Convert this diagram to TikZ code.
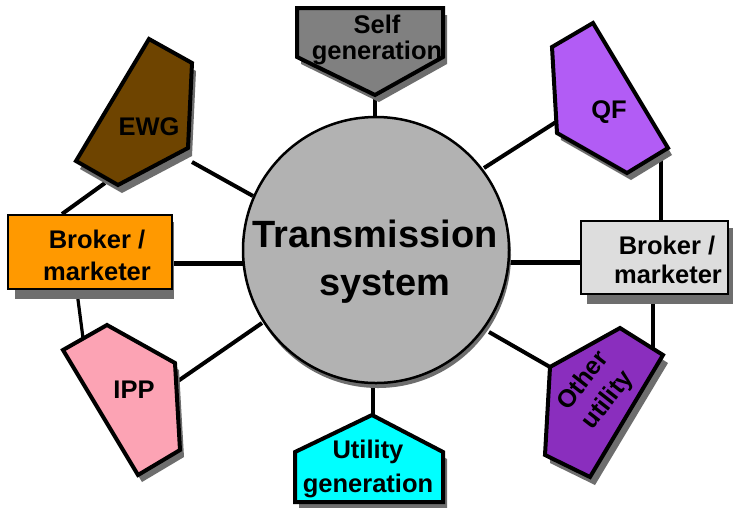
\documentclass[tikz,border=0pt]{standalone}
\usepackage{fontspec}
\setmainfont{Liberation Sans}
\definecolor{cbrown}{RGB}{110,68,0}
\definecolor{cqf}{RGB}{178,92,245}
\definecolor{cother}{RGB}{138,46,190}
\definecolor{cipp}{RGB}{252,163,180}
\definecolor{cself}{RGB}{128,128,128}
\definecolor{ccirc}{RGB}{178,178,178}
\definecolor{cbrk}{RGB}{221,221,221}
\definecolor{corange}{RGB}{255,153,0}
\definecolor{ccyan}{RGB}{0,255,255}
\definecolor{cshadow}{RGB}{110,110,110}
\begin{document}
\begin{tikzpicture}[x=1pt,y=-1pt,
  shp/.style={draw=black,line width=4pt,line join=miter},
  boxshp/.style={draw=black,line width=2.8pt},
  shd/.style={fill=cshadow,draw=none},
  conn/.style={draw=black,line width=4pt},
  thickconn/.style={draw=black,line width=5pt},
  lbl/.style={font=\fontsize{25.5}{30}\selectfont\bfseries,inner sep=0pt,anchor=base},
  big/.style={font=\fontsize{38}{46}\selectfont\bfseries,inner sep=0pt,anchor=base}]
\useasboundingbox (0,0) rectangle (733,507);
\fill[white] (0,0) rectangle (733,507);

% connector end points
\coordinate (selfP) at (375,95);   \coordinate (cTop) at (375,118);
\coordinate (ewgR) at (192,162);   \coordinate (cUL) at (253,196);
\coordinate (ewgB) at (105,183);   \coordinate (lbT) at (62,214);
\coordinate (lbR) at (174,263);    \coordinate (cL) at (244,263);
\coordinate (lbB) at (77,292);     \coordinate (ippT) at (83,338);
\coordinate (ippR) at (178,381);   \coordinate (cLL) at (262,323);
\coordinate (utT) at (373,416);    \coordinate (cBot) at (373,381);
\coordinate (othL) at (550,367);   \coordinate (cLR) at (489,332);
\coordinate (rbB) at (653,298);    \coordinate (othT) at (653,348);
\coordinate (rbL) at (582,262);    \coordinate (cR) at (509,262);
\coordinate (qfB) at (661,158);    \coordinate (rbT) at (661,222);
\coordinate (qfL) at (556,122);    \coordinate (cUR) at (484,168);

% connectors
\draw[conn] (selfP) -- (cTop);
\draw[conn] (ewgR) -- (cUL);
\draw[conn] (ewgB) -- (lbT);
\draw[thickconn] (lbR) -- (cL);
\draw[line width=3.2pt] (lbB) -- (ippT);
\draw[conn] (ippR) -- (cLL);
\draw[conn] (utT) -- (cBot);
\draw[conn] (othL) -- (cLR);
\draw[conn] (rbB) -- (othT);
\draw[thickconn] (rbL) -- (cR);
\draw[conn] (qfB) -- (rbT);
\draw[conn] (qfL) -- (cUR);

% central circle
\fill[cshadow] (378,255) circle (133);
\node[circle,draw=black,line width=2.5pt,fill=ccirc,minimum size=266pt,inner sep=0pt] (ts) at (376,250) {};
\node[big] (tsA) at (375,247) {Transmission};
\node[big] (tsB) at (385,295) {system};

% Self generation
\fill[shd,shift={(4,7)}] (297,8) -- (443,8) -- (443,57) -- (375,95) -- (297,57) -- cycle;
\draw[shp,fill=cself] (297,8) -- (443,8) -- (443,57) -- (375,95) -- (297,57) -- cycle;
\node[lbl] (selfA) at (377,33) {Self};
\node[lbl] (selfB) at (377,59) {generation};

% EWG
\fill[shd,shift={(4,8)}] (149,39) -- (192,63) -- (188,148) -- (118,185) -- (76,161) -- cycle;
\draw[shp,fill=cbrown] (149,39) -- (192,63) -- (188,148) -- (118,185) -- (76,161) -- cycle;
\node[lbl] (ewg) at (149,135) {EWG};

% QF
\fill[shd,shift={(4,7)}] (593,23) -- (668,148) -- (627,173) -- (557,133) -- (552,47) -- cycle;
\draw[shp,fill=cqf] (593,23) -- (668,148) -- (627,173) -- (557,133) -- (552,47) -- cycle;
\node[lbl] (qf) at (609,118) {QF};

% left broker
\fill[shd] (15,222) rectangle (174,299);
\draw[boxshp,fill=corange] (8,215) rectangle (172,289);
\node[lbl] (lbA) at (97,248) {Broker /};
\node[lbl] (lbB2) at (97,280) {marketer};

% right broker
\fill[shd] (587,228) rectangle (733,304);
\draw[boxshp,fill=cbrk] (581,221) rectangle (728,294);
\node[lbl] (rbA) at (667,254) {Broker /};
\node[lbl] (rbB2) at (668,283) {marketer};

% IPP
\fill[shd,shift={(4,7)}] (107,325) -- (175,363) -- (180,450) -- (138,475) -- (63,350) -- cycle;
\draw[shp,fill=cipp] (107,325) -- (175,363) -- (180,450) -- (138,475) -- (63,350) -- cycle;
\node[lbl] (ipp) at (134,398) {IPP};

% Other utility
\fill[shd,shift={(5,8)}] (620,328) -- (663,355) -- (590,477) -- (545,455) -- (550,367) -- cycle;
\draw[shp,fill=cother] (620,328) -- (663,355) -- (590,477) -- (545,455) -- (550,367) -- cycle;
\node[font=\fontsize{25}{31}\selectfont\bfseries,inner sep=0pt,align=center,rotate=52] (oth) at (596,391) {Other\\utility};

% Utility generation
\fill[shd,shift={(4,7)}] (372,415) -- (443,452) -- (443,502) -- (295,502) -- (295,452) -- cycle;
\draw[shp,fill=ccyan] (372,415) -- (443,452) -- (443,502) -- (295,502) -- (295,452) -- cycle;
\node[lbl] (utA) at (368,458) {Utility};
\node[lbl] (utB) at (368,492) {generation};
\end{tikzpicture}
\end{document}
